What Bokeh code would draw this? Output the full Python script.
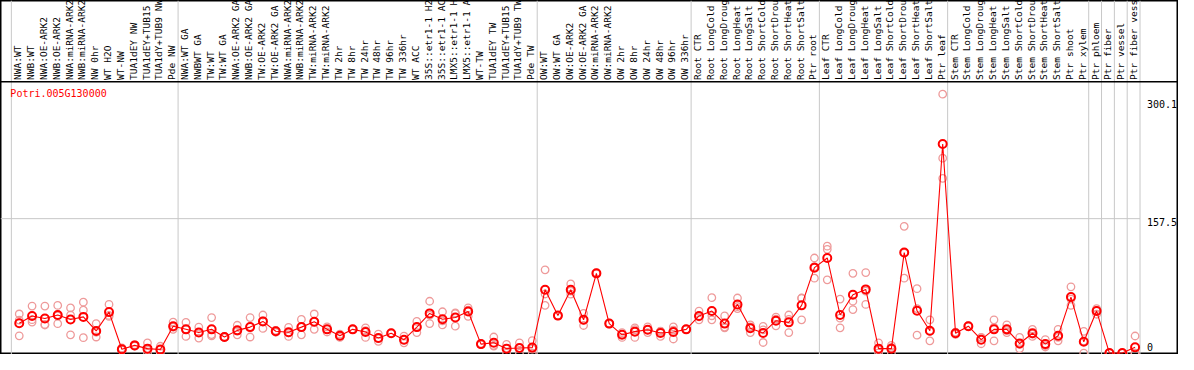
from bokeh.plotting import figure
from bokeh.models import Range1d, ColumnDataSource
from bokeh.core.properties import value
from bokeh.embed import file_html
from bokeh.resources import INLINE

gene = "Potri.005G130000"

group_sizes = [13, 28, 12, 10, 10, 11, 1, 1, 1, 1]

samples = [
    "NWA:WT", "NWB:WT", "NWA:OE-ARK2", "NWB:OE-ARK2", "NWA:miRNA-ARK2", "NWB:miRNA-ARK2",
    "NW 0hr", "WT H2O", "WT-NW", "TUA1dEY NW", "TUA1dEY+TUB15", "TUA1dY+TUB9 NW", "Pde NW",
    "NWA:WT GA", "NWBWT GA", "TW:WT", "TW:WT GA", "NWA:OE-ARK2 GA", "NWB:OE-ARK2 GA",
    "TW:OE-ARK2", "TW:OE-ARK2 GA", "NWA:miRNA-ARK2", "NWB:miRNA-ARK2", "TW:miRNA-ARK2",
    "TW:miRNA-ARK2", "TW 2hr", "TW 8hr", "TW 24hr", "TW 48hr", "TW 96hr", "TW 336hr",
    "WT ACC", "35S::etr1-1 H2", "35S::etr1-1 AC", "LMX5::etr1-1 H", "LMX5::etr1-1 A",
    "WT-TW", "TUA1dEY TW", "TUA1dEY+TUB15", "TUA1dY+TUB9 TW", "Pde TW",
    "OW:WT", "OW:WT GA", "OW:OE-ARK2", "OW:OE-ARK2 GA", "OW:miRNA-ARK2", "OW:miRNA-ARK2",
    "OW 2hr", "OW 8hr", "OW 24hr", "OW 48hr", "OW 96hr", "OW 336hr",
    "Root CTR", "Root LongCold", "Root LongDroug", "Root LongHeat", "Root LongSalt",
    "Root ShortCold", "Root ShortDrou", "Root ShortHeat", "Root ShortSalt", "Ptr root",
    "Leaf CTR", "Leaf LongCold", "Leaf LongDroug", "Leaf LongHeat", "Leaf LongSalt",
    "Leaf ShortCold", "Leaf ShortDrou", "Leaf ShortHeat", "Leaf ShortSalt", "Ptr leaf",
    "Stem CTR", "Stem LongCold", "Stem LongDroug", "Stem LongHeat", "Stem LongSalt",
    "Stem ShortCold", "Stem ShortDrou", "Stem ShortHeat", "Stem ShortSalt", "Ptr shoot",
    "Ptr xylem",
    "Ptr phloem", "Ptr fiber", "Ptr vessel", "Ptr fiber vess",
]

means = [
    34.9, 43.5, 40.5, 44.6, 39.4, 42.4, 25.9, 48.0, 4.5, 9.0, 5.2, 4.1, 31.5,
    27.8, 24.0, 27.8, 18.8, 26.6, 30.4, 37.1, 25.5, 24.4, 30.4, 36.7, 27.8, 20.2, 27.8,
    24.7, 17.6, 23.2, 15.7, 30.4, 46.5, 39.7, 41.6, 48.7, 10.5, 12.0, 5.2, 6.0, 6.4,
    74.2, 43.9, 74.2, 39.0, 93.4, 34.5, 21.4, 25.1, 27.3, 23.6, 24.7, 27.8,
    43.5, 49.2, 34.5, 57.0, 29.2, 23.6, 37.9, 36.0, 55.9, 100.1,
    111.4, 44.6, 68.3, 74.6, 5.2, 5.2, 117.8, 49.5, 26.2, 244.9,
    23.2, 31.5, 15.7, 27.8, 27.8, 11.2, 23.2, 10.5, 20.2, 65.6, 13.2,
    49.2, 0.0, 0.0, 6.7,
]

rep1 = [
    45.8, 55.1, 55.1, 55.8, 52.9, 59.6, 34.5, 57.0, 6.0, 8.2, 12.0, 8.0, 36.3,
    36.0, 30.4, 41.6, 18.0, 32.6, 41.6, 44.6, 26.6, 30.0, 39.4, 45.8, 30.7, 22.1, 28.0,
    29.6, 22.1, 23.0, 19.9, 37.1, 60.7, 48.4, 47.2, 52.9, 11.0, 18.8, 10.1, 12.0, 14.6,
    97.5, 44.0, 81.0, 46.5, 93.0, 35.0, 24.0, 29.6, 30.7, 19.5, 30.7, 28.0,
    49.2, 64.9, 43.5, 64.5, 33.0, 31.2, 42.0, 44.6, 64.5, 111.4,
    125.2, 63.3, 93.4, 94.3, 12.0, 9.0, 148.5, 75.4, 39.0, 303.4,
    23.0, 32.0, 18.3, 39.0, 33.0, 18.3, 27.8, 15.7, 27.8, 77.6, 25.5,
    52.1, 0.0, 0.0, 20.0,
]

rep2 = [
    20.2, 36.3, 32.9, 34.4, 44.6, 50.2, 18.8, 42.9, 3.4, 9.0, 3.6, 3.8, 30.4,
    19.5, 17.6, 21.7, 19.0, 21.4, 18.8, 28.9, 25.5, 19.5, 21.4, 27.8, 24.7, 18.3, 27.5,
    18.3, 13.8, 23.5, 12.0, 24.0, 34.5, 33.0, 31.5, 50.3, 10.0, 8.2, 0.0, 6.0, 0.0,
    55.9, 43.5, 69.0, 32.3, 94.0, 34.0, 18.3, 18.3, 27.3, 25.5, 16.5, 27.5,
    39.0, 39.0, 29.6, 52.1, 24.0, 12.4, 31.9, 24.0, 39.0, 87.7,
    121.5, 29.6, 60.7, 57.0, 3.4, 6.5, 87.7, 21.0, 14.3, 228.3,
    22.0, 31.0, 10.9, 14.3, 24.0, 5.2, 19.5, 7.1, 14.3, 55.9, 0.0,
    50.0, 0.0, 0.0, 0.0,
]

rep3 = [
    38.7, 39.1, 33.5, 43.6, 21.4, 18.0, 24.4, 44.1, 4.1, 9.8, 0.0, 0.5, 27.8,
    27.9, 24.0, 20.1, 19.4, 25.8, 30.8, 37.8, 24.4, 23.7, 30.4, 36.5, 28.0, 20.2, 28.0,
    26.2, 16.9, 23.1, 15.2, 30.1, 44.3, 37.7, 46.1, 43.0, 10.5, 9.0, 5.5, 0.0, 4.6,
    69.2, 44.2, 72.6, 38.3, 93.2, 34.5, 22.0, 27.4, 24.0, 25.8, 26.9, 28.0,
    42.3, 43.7, 30.4, 54.4, 30.6, 27.2, 39.8, 39.4, 64.2, 101.2,
    85.8, 40.9, 51.0, 72.5, 0.2, 0.0, 117.2, 52.1, 25.3, 204.7,
    24.6, 31.5, 18.0, 30.1, 26.4, 10.1, 22.3, 8.7, 18.5, 63.3, 14.1,
    45.5, 0.0, 0.0, 0.0,
]

tick_labels = ["300.1", "157.5", "0"]
grid_value = 157.5

# ---- layout constants (data units) ----
X0, X1 = -1.4615, 90.385
Y0, Y1 = -1.68, 413.1
HEADER_LINE = 317.8
LABEL_BASE = 320.0
SEP_OFF = 8.0 / 13.0

n = len(samples)
xs = list(range(n))

p = figure(width=1178, height=354, x_range=Range1d(X0, X1), y_range=Range1d(Y0, Y1),
           output_backend="svg", toolbar_location=None, min_border=0)
p.xaxis.visible = False
p.yaxis.visible = False
p.xgrid.visible = False
p.ygrid.visible = False
p.outline_line_color = "black"
p.outline_line_width = 2
p.background_fill_color = "white"
p.border_fill_color = "white"

# group separators
bounds = [0]
for g in group_sizes:
    bounds.append(bounds[-1] + g)
sep_x = [b - SEP_OFF for b in bounds]
p.segment(x0=sep_x, y0=[Y0] * len(sep_x), x1=sep_x, y1=[Y1] * len(sep_x),
          line_color="#c8c8c8", line_width=1)

# horizontal grid line at mid value
p.segment(x0=[X0], y0=[grid_value], x1=[bounds[-1] - SEP_OFF], y1=[grid_value],
          line_color="#c8c8c8", line_width=1)

# header bottom line
p.segment(x0=[X0], y0=[HEADER_LINE], x1=[X1], y1=[HEADER_LINE],
          line_color="black", line_width=1.5)

# sample labels (rotated)
lab_src = ColumnDataSource(dict(x=[i - 0.115 for i in xs], y=[LABEL_BASE] * n, t=samples))
p.text(x="x", y="y", text="t", source=lab_src, angle=1.5707963, text_align="left",
       text_baseline="middle", text_font=value("DejaVu Sans Mono"),
       text_font_size="9.5px", text_color="black")

# replicates
rx = xs + xs + xs
ry = rep1 + rep2 + rep3
p.scatter(x=rx, y=ry, marker="circle", size=7.5, fill_color=None,
          line_color="#ee9a9a", line_width=1.3)

# mean line + markers
p.line(x=xs, y=means, line_color="red", line_width=1.1)
p.scatter(x=xs, y=means, marker="circle", size=8, fill_color=None,
          line_color="red", line_width=2)

# gene name
p.text(x=[-0.692], y=[304.4], text=[gene], text_align="left", text_baseline="middle",
       text_font=value("DejaVu Sans Mono"), text_font_size="10px", text_color="red")

# value labels on right
tick_y = [292.0, 153.0, 7.3]
p.text(x=[87.92] * 3, y=tick_y, text=tick_labels, text_align="left",
       text_baseline="middle", text_font=value("DejaVu Sans Mono"),
       text_font_size="10px", text_color="black")

open("out.html", "w").write(file_html(p, INLINE))
